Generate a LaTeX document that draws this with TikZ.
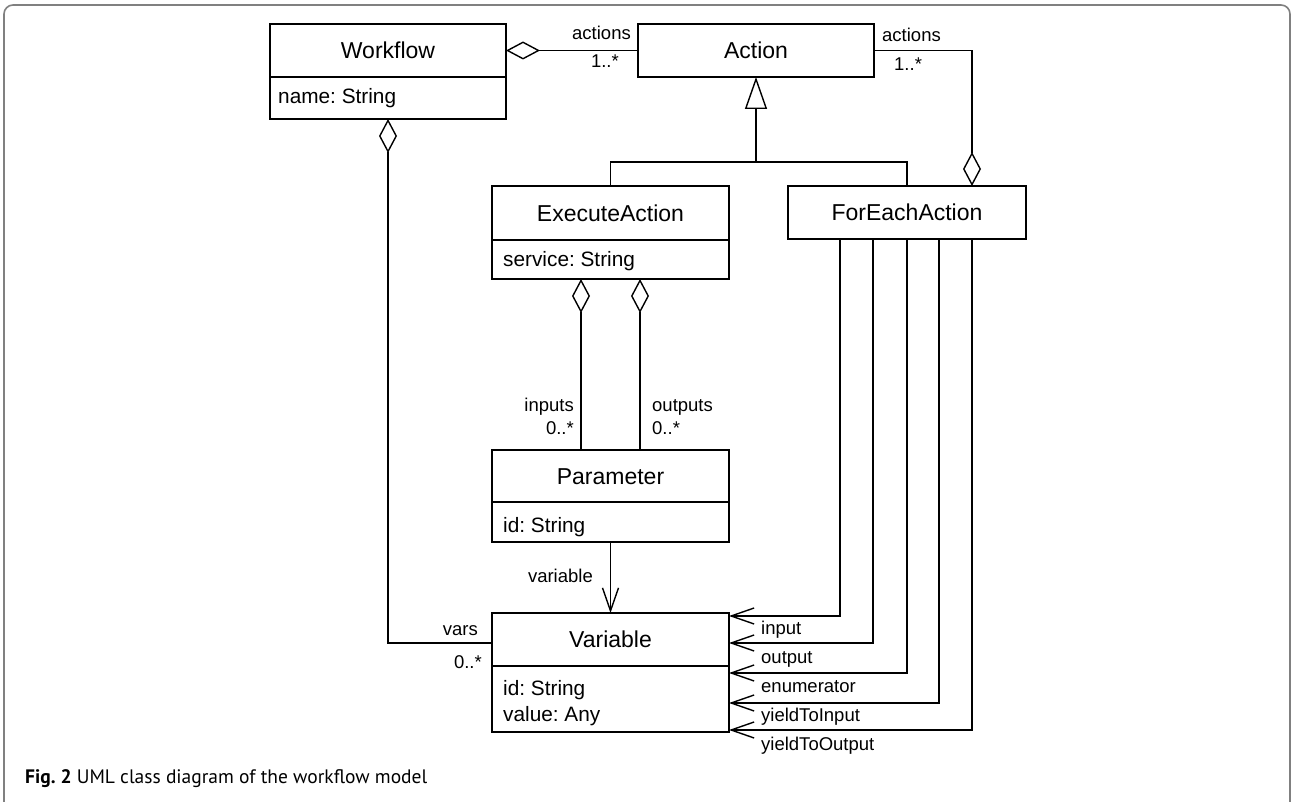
\documentclass[tikz,border=0pt]{standalone}
\usepackage{fontspec}
\setmainfont{Liberation Sans}
\newfontfamily\capfont{PT Sans}
\usetikzlibrary{arrows.meta}
\definecolor{framegray}{RGB}{128,128,128}
\frenchspacing

\begin{document}
\begin{tikzpicture}[x=1pt,y=-1pt,
  box/.style={draw=black, line width=1.8pt, inner sep=0pt, outer sep=0pt},
  clsname/.style={box, font=\fontsize{23}{27}\selectfont, text height=16.5pt, text depth=0pt},
  attrtext/.style={font=\fontsize{20.8}{25}\selectfont, inner sep=0pt, anchor=base west},
  lbl/.style={font=\fontsize{18.5}{22}\selectfont, inner sep=0pt},
  link/.style={line width=1.4pt},
  agg/.style={link, {Diamond[open, length=34pt, width=18pt]}-},
  aggend/.style={link, -{Diamond[open, length=34pt, width=18pt]}},
  nav/.style={link, -{Straight Barb[length=23pt, width=16pt]}},
  inherit/.style={link, -{Triangle[open, length=32pt, width=22pt]}},
]
\useasboundingbox (0,0) rectangle (1291,802);

% outer frame, open at the bottom
\draw[framegray, line width=1.6pt, rounded corners=9pt] (4,815) -- (4,5) -- (1290,5) -- (1290,815);

% classes
\node[clsname, minimum width=236pt, minimum height=53pt] (wf) at (388,50.5) {Workflow};
\node[box, minimum width=236pt, minimum height=42pt, anchor=north] (wfat) at (wf.south) {};
\node[attrtext] (wfname) at (278,104) {name: String};

\node[clsname, minimum width=236pt, minimum height=53pt] (act) at (756,50.5) {Action};

\node[clsname, minimum width=237pt, minimum height=54pt] (exa) at (610.5,213) {ExecuteAction};
\node[box, minimum width=237pt, minimum height=39pt, anchor=north] (exaat) at (exa.south) {};
\node[attrtext] (exasvc) at (503,267) {service: String};

\node[clsname, minimum width=238pt, minimum height=53pt] (fea) at (907,212.5) {ForEachAction};

\node[clsname, minimum width=237pt, minimum height=52pt] (par) at (610.5,476) {Parameter};
\node[box, minimum width=237pt, minimum height=40pt, anchor=north] (parat) at (par.south) {};
\node[attrtext] (parid) at (503,532) {id: String};

\node[clsname, minimum width=237pt, minimum height=53pt] (var) at (610.5,639.5) {Variable};
\node[box, minimum width=237pt, minimum height=66pt, anchor=north] (varat) at (var.south) {};
\node[attrtext] (varid) at (503,695) {id: String};
\node[attrtext] (varval) at (503,721) {value: Any};

% helper coordinates for bends and attachment points
\coordinate (rt) at (972,0);
\coordinate (genbar) at (756,162);
\coordinate (pin) at (581,0);
\coordinate (pout) at (640,0);
\coordinate (vbend) at (388,643);
\coordinate (f1) at (840,616);
\coordinate (f2) at (873,643);
\coordinate (f3) at (907,673);
\coordinate (f4) at (939,703);
\coordinate (f5) at (972,730);

% associations
\draw[agg] (wf.east) -- (act.west);
\draw[aggend] (act.east) -| (fea.north -| rt);

% generalisation
\draw[link] (exa.north) |- (genbar) -| (fea.north);
\draw[inherit] (genbar) -- (act.south);

\draw[agg] (exaat.south -| pin) -- (par.north -| pin);
\draw[agg] (exaat.south -| pout) -- (par.north -| pout);
\draw[nav] (parat.south) -- (var.north);
\draw[agg] (wfat.south) |- (var.west |- vbend);

\draw[nav] (fea.south -| f1) |- (var.east |- f1);
\draw[nav] (fea.south -| f2) |- (var.east |- f2);
\draw[nav] (fea.south -| f3) |- (var.east |- f3);
\draw[nav] (fea.south -| f4) |- (var.east |- f4);
\draw[nav] (fea.south -| f5) |- (var.east |- f5);

% role names and multiplicities
\node[lbl, anchor=base east] (la1) at (631,40) {actions};
\node[lbl, anchor=base east] (lm1) at (619,68) {1..*};
\node[lbl, anchor=base west] (la2) at (882,42) {actions};
\node[lbl, anchor=base west] (lm2) at (894,71) {1..*};
\node[lbl, anchor=base east] (lin) at (574,411) {inputs};
\node[lbl, anchor=base east] (lmin) at (574,434) {0..*};
\node[lbl, anchor=base west] (lout) at (652,411) {outputs};
\node[lbl, anchor=base west] (lmout) at (652,434) {0..*};
\node[lbl, anchor=base east] (lvar) at (593,582) {variable};
\node[lbl, anchor=base east] (lvars) at (478,635) {vars};
\node[lbl, anchor=base east] (lmvars) at (482,668) {0..*};
\node[lbl, anchor=base west] (lr1) at (761,634) {input};
\node[lbl, anchor=base west] (lr2) at (761,663) {output};
\node[lbl, anchor=base west] (lr3) at (761,692) {enumerator};
\node[lbl, anchor=base west] (lr4) at (761,721) {yieldToInput};
\node[lbl, anchor=base west] (lr5) at (761,750) {yieldToOutput};

% caption
\node[anchor=base west, inner sep=0pt, font=\capfont\fontsize{19.5}{23}\selectfont] (cap) at (25,783)
  {\textbf{Fig. 2} UML class diagram of the workflow model};
\end{tikzpicture}
\end{document}
